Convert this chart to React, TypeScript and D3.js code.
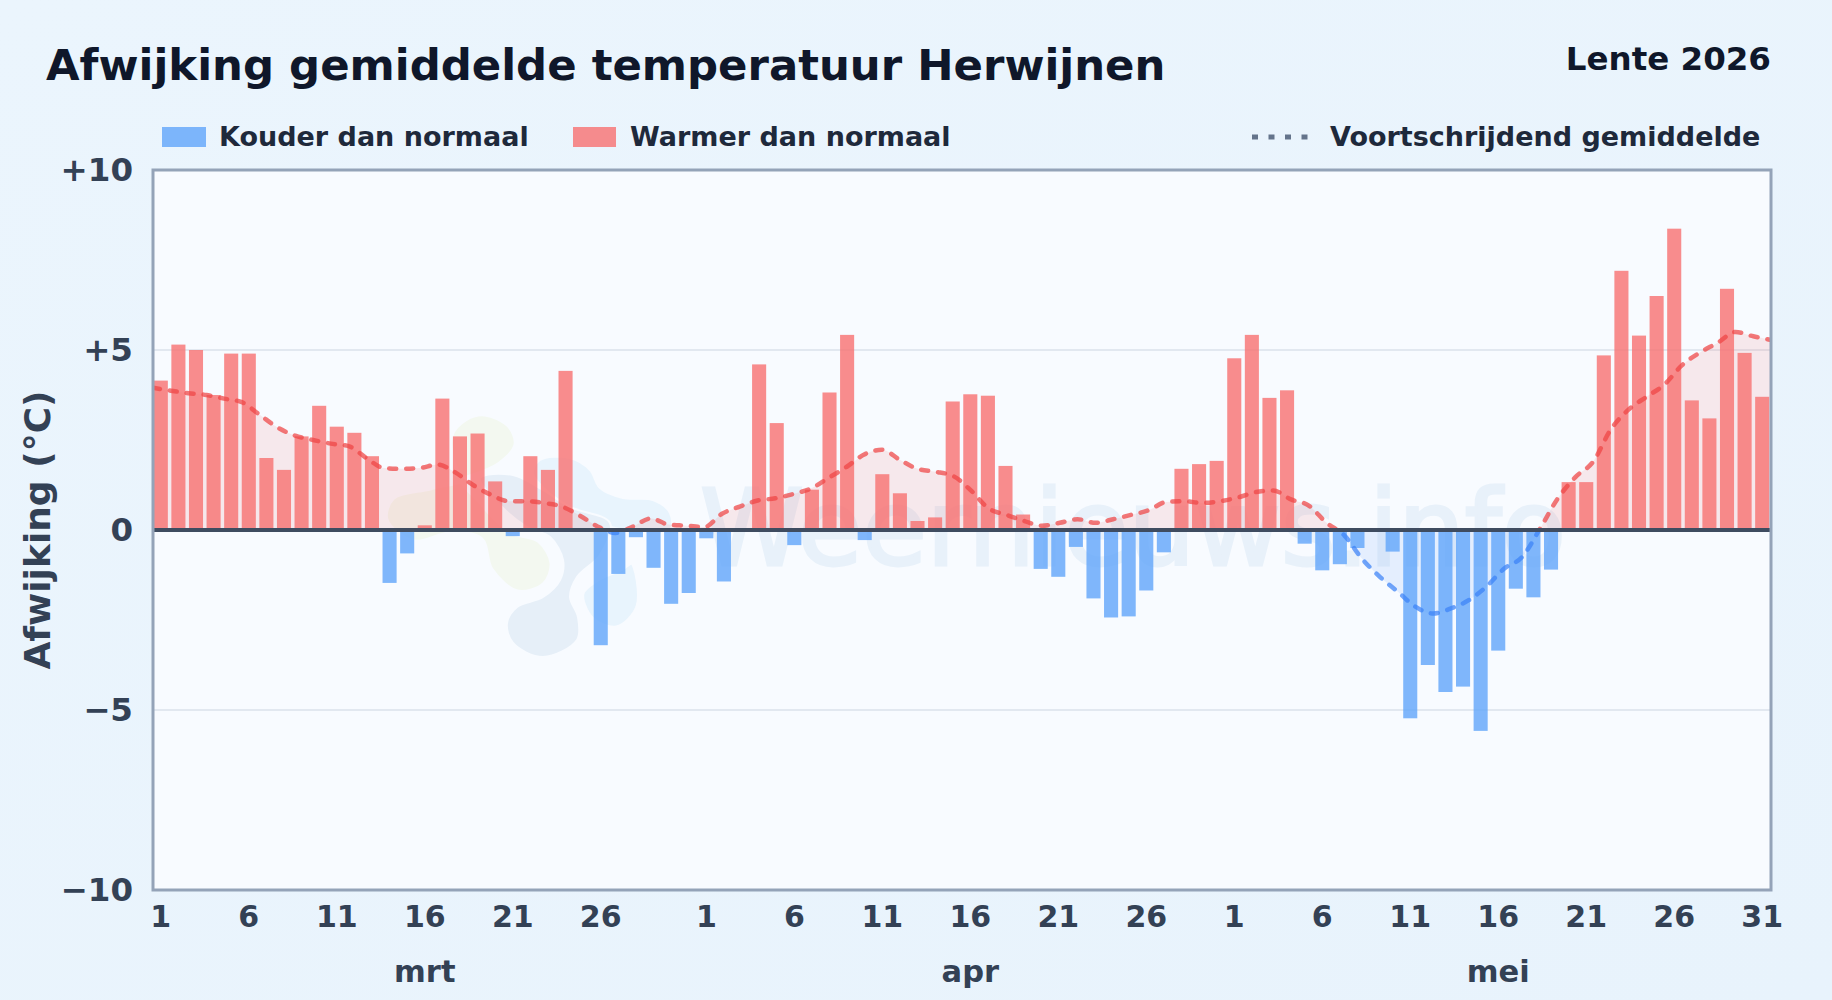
import { useEffect, useRef } from 'react';
import * as d3 from 'd3';

const WIDTH = 1832;
const HEIGHT = 1000;

// daily deviation from normal (°C)
const marchValues = [4.15, 5.15, 5.0, 3.75, 4.9, 4.9, 2.0, 1.67, 2.6, 3.45, 2.87, 2.7, 2.05, -1.47, -0.65, 0.13, 3.65, 2.6, 2.68, 1.35, -0.17, 2.05, 1.67, 4.42, 0, -3.2, -1.22, -0.2, -1.05, -2.05, -1.75];
const aprilValues = [-0.23, -1.43, 0, 4.6, 2.97, -0.42, 1.12, 3.82, 5.42, -0.28, 1.55, 1.02, 0.25, 0.35, 3.57, 3.77, 3.73, 1.78, 0.43, -1.08, -1.3, -0.47, -1.9, -2.43, -2.4, -1.68, -0.62, 1.7, 1.83, 1.92];
const mayValues = [4.77, 5.42, 3.67, 3.88, -0.38, -1.12, -0.95, -0.5, 0, -0.6, -5.23, -3.75, -4.5, -4.35, -5.58, -3.35, -1.63, -1.87, -1.1, 1.33, 1.33, 4.85, 7.2, 5.4, 6.5, 8.37, 3.6, 3.1, 6.7, 4.92, 3.7];

// moving average as drawn in the chart
const marchAverage = [3.95, 3.87, 3.8, 3.75, 3.65, 3.55, 3.2, 2.85, 2.62, 2.5, 2.4, 2.33, 2.0, 1.72, 1.7, 1.72, 1.82, 1.6, 1.25, 0.98, 0.8, 0.8, 0.75, 0.65, 0.4, 0.1, -0.08, 0.1, 0.32, 0.15, 0.12];
const aprilAverage = [0.08, 0.45, 0.65, 0.82, 0.88, 1.0, 1.15, 1.45, 1.75, 2.1, 2.23, 1.95, 1.7, 1.62, 1.5, 1.1, 0.6, 0.42, 0.25, 0.12, 0.2, 0.3, 0.2, 0.3, 0.42, 0.55, 0.78, 0.8, 0.75, 0.8];
const mayAverage = [0.9, 1.05, 1.1, 0.85, 0.68, 0.2, -0.15, -0.8, -1.3, -1.71, -2.13, -2.32, -2.18, -1.95, -1.57, -1.07, -0.75, 0.03, 0.87, 1.47, 1.9, 2.8, 3.35, 3.7, 4.04, 4.58, 4.93, 5.2, 5.5, 5.38, 5.28];

const monthNames = ['mrt', 'apr', 'mei'];
const monthValues = [marchValues, aprilValues, mayValues];
const yTicks = [10, 5, 0, -5, -10];
const dayTicks = [1, 6, 11, 16, 21, 26];

const values = [...marchValues, ...aprilValues, ...mayValues];
const average = [...marchAverage, ...aprilAverage, ...mayAverage];
const dayLabels = monthValues.flatMap((m) => m.map((_, i) => i + 1));
const monthOf = monthValues.flatMap((m, k) => m.map(() => k));

const margin = { left: 153, right: 1771, top: 170, bottom: 890 };

const RED = '#f87171';
const BLUE = '#60a5fa';

const yLabel = (v: number) => (v > 0 ? `+${v}` : v < 0 ? `\u2212${-v}` : '0');

// watermark logo blobs, faint shapes behind the bars
const blobGreen: [number, number][] = [[485, 413], [510, 425], [517, 445], [500, 465], [470, 478], [430, 487], [392, 497], [385, 520], [413, 543], [450, 535], [480, 540], [490, 570], [517, 593], [545, 585], [553, 563], [540, 540], [510, 530], [480, 500], [455, 470], [450, 435], [465, 418]];
const blobGrey: [number, number][] = [[480, 478], [513, 475], [543, 490], [570, 507], [610, 523], [600, 555], [577, 577], [570, 597], [578, 617], [577, 640], [543, 657], [513, 643], [507, 623], [517, 607], [543, 597], [560, 580], [563, 560], [550, 537], [527, 527], [500, 505]];
const blobBlue: [number, number][] = [[540, 460], [570, 458], [590, 470], [600, 488], [623, 498], [653, 500], [670, 513], [670, 530], [640, 532], [605, 525], [575, 510], [548, 492], [533, 473]];
const blobBlueLow: [number, number][] = [[580, 593], [597, 577], [620, 567], [633, 560], [640, 607], [617, 630], [590, 620]];

export default function App() {
  const ref = useRef<SVGSVGElement | null>(null);

  useEffect(() => {
    const svg = d3.select(ref.current);
    svg.selectAll('*').remove();

    const font = '"DejaVu Sans", sans-serif';
    const x = d3
      .scaleBand<number>()
      .domain(d3.range(values.length))
      .range([margin.left - 1, margin.right])
      .paddingInner(0.2)
      .paddingOuter(0.1);
    // the average runs from frame edge to frame edge
    const xLine = d3
      .scalePoint<number>()
      .domain(d3.range(average.length))
      .range([margin.left, margin.right]);
    const y = d3.scaleLinear().domain([-10, 10]).range([margin.bottom, margin.top]);
    const cx = (i: number) => (x(i) as number) + x.bandwidth() / 2;

    const defs = svg.append('defs');
    const grad = defs
      .append('linearGradient')
      .attr('id', 'page-bg')
      .attr('x1', 0)
      .attr('y1', 0)
      .attr('x2', 1)
      .attr('y2', 1);
    grad.append('stop').attr('offset', '0%').attr('stop-color', '#ebf5fd');
    grad.append('stop').attr('offset', '100%').attr('stop-color', '#e8f3fc');

    defs
      .append('clipPath')
      .attr('id', 'clip-above')
      .append('rect')
      .attr('x', margin.left)
      .attr('width', margin.right - margin.left)
      .attr('y', margin.top)
      .attr('height', y(0) - margin.top);
    defs
      .append('clipPath')
      .attr('id', 'clip-below')
      .append('rect')
      .attr('x', margin.left)
      .attr('width', margin.right - margin.left)
      .attr('y', y(0))
      .attr('height', margin.bottom - y(0));
    defs
      .append('clipPath')
      .attr('id', 'clip-bars')
      .append('rect')
      .attr('x', margin.left)
      .attr('width', margin.right - margin.left)
      .attr('y', margin.top)
      .attr('height', margin.bottom - margin.top);

    svg.append('rect').attr('width', WIDTH).attr('height', HEIGHT).attr('fill', 'url(#page-bg)');
    svg
      .append('rect')
      .attr('x', margin.left)
      .attr('y', margin.top)
      .attr('width', margin.right - margin.left)
      .attr('height', margin.bottom - margin.top)
      .attr('fill', '#f8fbff');

    // watermark
    const blob = d3.line().curve(d3.curveCatmullRomClosed.alpha(0.5));
    const mark = svg.append('g');
    [
      { pts: blobBlue, fill: '#e8f4fd', halo: 2 },
      { pts: blobGrey, fill: '#e6eff8', halo: 2 },
      { pts: blobGreen, fill: '#f3f8f0', halo: 7 },
      { pts: blobBlueLow, fill: '#e8f4fd', halo: 9 },
    ].forEach((b) => {
      mark
        .append('path')
        .attr('d', blob(b.pts))
        .attr('fill', b.fill)
        .attr('stroke', '#f8fbff')
        .attr('stroke-width', b.halo);
    });
    mark
      .append('text')
      .attr('x', 700)
      .attr('y', 565)
      .attr('font-family', font)
      .attr('font-weight', 400)
      .attr('font-size', 105)
      .attr('fill', '#e8f1fa')
      .attr('stroke', '#e8f1fa')
      .attr('stroke-width', 3)
      .text('Weernieuws.info');

    // grid
    svg
      .append('g')
      .selectAll('line')
      .data(yTicks.filter((t) => Math.abs(t) === 5))
      .join('line')
      .attr('x1', margin.left)
      .attr('x2', margin.right)
      .attr('y1', (d) => y(d))
      .attr('y2', (d) => y(d))
      .attr('stroke', '#e2e8f0')
      .attr('stroke-width', 2);

    // area between average and zero
    const area = d3
      .area<number>()
      .x((_, i) => xLine(i) as number)
      .y0(y(0))
      .y1((d) => y(d))
      .curve(d3.curveMonotoneX);
    const line = d3
      .line<number>()
      .x((_, i) => xLine(i) as number)
      .y((d) => y(d))
      .curve(d3.curveMonotoneX);

    svg
      .append('path')
      .attr('d', area(average))
      .attr('clip-path', 'url(#clip-above)')
      .attr('fill', 'rgba(239,68,68,0.1)');
    svg
      .append('path')
      .attr('d', area(average))
      .attr('clip-path', 'url(#clip-below)')
      .attr('fill', 'rgba(59,130,246,0.1)');

    // bars
    svg
      .append('g')
      .attr('clip-path', 'url(#clip-bars)')
      .selectAll('rect')
      .data(values)
      .join('rect')
      .attr('x', (_, i) => x(i) as number)
      .attr('width', x.bandwidth())
      .attr('y', (d) => (d >= 0 ? y(d) : y(0)))
      .attr('height', (d) => Math.abs(y(d) - y(0)))
      .attr('fill', (d) => (d >= 0 ? RED : BLUE))
      .attr('fill-opacity', 0.8);

    // moving average line, red above zero, blue below
    [
      { clip: 'url(#clip-above)', stroke: 'rgba(239,68,68,0.72)' },
      { clip: 'url(#clip-below)', stroke: 'rgba(59,130,246,0.72)' },
    ].forEach((s) => {
      svg
        .append('path')
        .attr('d', line(average))
        .attr('clip-path', s.clip)
        .attr('fill', 'none')
        .attr('stroke', s.stroke)
        .attr('stroke-width', 4.5)
        .attr('stroke-linecap', 'round')
        .attr('stroke-dasharray', '7 10');
    });

    // zero line and frame
    svg
      .append('line')
      .attr('x1', margin.left)
      .attr('x2', margin.right)
      .attr('y1', y(0))
      .attr('y2', y(0))
      .attr('stroke', '#3f4c60')
      .attr('stroke-width', 4);
    svg
      .append('rect')
      .attr('x', margin.left)
      .attr('y', margin.top)
      .attr('width', margin.right - margin.left)
      .attr('height', margin.bottom - margin.top)
      .attr('fill', 'none')
      .attr('stroke', '#94a3b8')
      .attr('stroke-width', 3);

    // axes
    const yAxis = d3
      .axisLeft(y)
      .tickValues(yTicks)
      .tickSize(0)
      .tickPadding(0)
      .tickFormat((d) => yLabel(d as number));
    const yG = svg.append('g').attr('transform', `translate(${margin.left - 20},0)`).call(yAxis);
    yG.select('.domain').remove();
    yG.selectAll('text')
      .attr('font-family', font)
      .attr('font-weight', 700)
      .attr('font-size', 32.5)
      .attr('fill', '#334155');

    const lastIndex = values.length - 1;
    const xAxis = d3
      .axisBottom(x)
      .tickValues(d3.range(values.length).filter((i) => dayTicks.includes(dayLabels[i]) || i === lastIndex))
      .tickSize(0)
      .tickPadding(0)
      .tickFormat((i) => String(dayLabels[i as number]));
    const xG = svg.append('g').attr('transform', `translate(0,${margin.bottom + 16})`).call(xAxis);
    xG.select('.domain').remove();
    xG.selectAll('text')
      .attr('font-family', font)
      .attr('font-weight', 700)
      .attr('font-size', 30)
      .attr('fill', '#334155');

    // month labels sit under the 16th of each month
    svg
      .append('g')
      .selectAll('text')
      .data(monthNames)
      .join('text')
      .attr('x', (_, k) => cx(monthOf.indexOf(k) + 15))
      .attr('y', 982)
      .attr('text-anchor', 'middle')
      .attr('font-family', font)
      .attr('font-weight', 700)
      .attr('font-size', 30.5)
      .attr('fill', '#334155')
      .text((d) => d);

    svg
      .append('text')
      .attr('transform', `translate(50,${y(0)}) rotate(-90)`)
      .attr('text-anchor', 'middle')
      .attr('font-family', font)
      .attr('font-weight', 700)
      .attr('font-size', 36)
      .attr('fill', '#334155')
      .text('Afwijking (°C)');

    // titles
    svg
      .append('text')
      .attr('x', 46)
      .attr('y', 80)
      .attr('font-family', font)
      .attr('font-weight', 700)
      .attr('font-size', 43.4)
      .attr('fill', '#0f172a')
      .text('Afwijking gemiddelde temperatuur Herwijnen');
    svg
      .append('text')
      .attr('x', margin.right)
      .attr('y', 70)
      .attr('text-anchor', 'end')
      .attr('font-family', font)
      .attr('font-weight', 700)
      .attr('font-size', 32.5)
      .attr('fill', '#0f172a')
      .text('Lente 2026');

    // legend
    const legendText = (tx: number, label: string) =>
      svg
        .append('text')
        .attr('x', tx)
        .attr('y', 146)
        .attr('font-family', font)
        .attr('font-weight', 700)
        .attr('font-size', 27)
        .attr('fill', '#1e293b')
        .text(label);
    svg.append('rect').attr('x', 162).attr('y', 127).attr('width', 44).attr('height', 20).attr('fill', BLUE).attr('fill-opacity', 0.8);
    legendText(219, 'Kouder dan normaal');
    svg.append('rect').attr('x', 573).attr('y', 127).attr('width', 43).attr('height', 20).attr('fill', RED).attr('fill-opacity', 0.8);
    legendText(630, 'Warmer dan normaal');
    svg
      .append('line')
      .attr('x1', 1252)
      .attr('x2', 1308)
      .attr('y1', 137)
      .attr('y2', 137)
      .attr('stroke', '#64748b')
      .attr('stroke-width', 5)
      .attr('stroke-dasharray', '6 10.5');
    legendText(1330, 'Voortschrijdend gemiddelde');
  }, []);

  return (
    <svg
      ref={ref}
      width={WIDTH}
      height={HEIGHT}
      style={{ position: 'absolute', left: 0, top: 0, display: 'block' }}
    />
  );
}
